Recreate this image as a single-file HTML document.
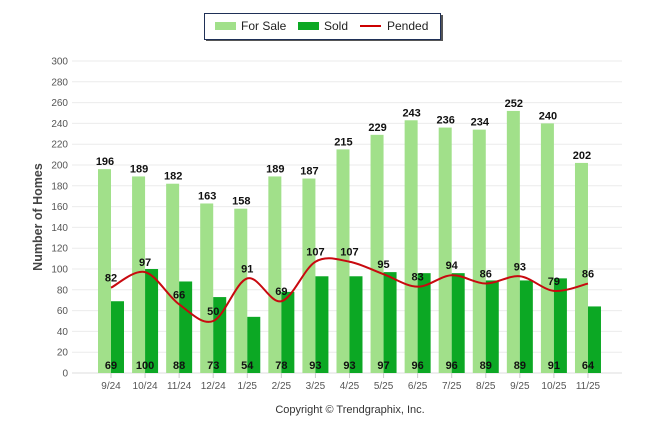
<!DOCTYPE html>
<html><head><meta charset="utf-8"><style>
body{margin:0;background:#fff;font-family:"Liberation Sans",sans-serif}
svg{display:block}
</style></head><body>
<svg id="chart" width="646" height="434">
<g>
<rect x="206" y="15" width="237" height="26" fill="#555"/>
<rect x="204.5" y="13.5" width="236" height="26" fill="#fff" stroke="#1f3057"/>
<rect x="215" y="22" width="21" height="8" fill="#a1e08a"/>
<text x="241" y="30" font-size="12" fill="#222">For Sale</text>
<rect x="298" y="22" width="21" height="8" fill="#0ca824"/>
<text x="324" y="30" font-size="12" fill="#222">Sold</text>
<rect x="360" y="25" width="21" height="2" fill="#c00"/>
<text x="387" y="30" font-size="12" fill="#222">Pended</text>
</g>
<text transform="translate(42,217) rotate(-90)" text-anchor="middle" font-size="12.5" font-weight="bold" fill="#444">Number of Homes</text>
<text x="350" y="413" text-anchor="middle" font-size="11" fill="#333">Copyright © Trendgraphix, Inc.</text>
<g id="grid"></g><g id="bars"></g><g id="line"></g><g id="labels"></g>
</svg>
<script>
const categories=["9/24","10/24","11/24","12/24","1/25","2/25","3/25","4/25","5/25","6/25","7/25","8/25","9/25","10/25","11/25"];
const forSale=[196,189,182,163,158,189,187,215,229,243,236,234,252,240,202];
const sold=[69,100,88,73,54,78,93,93,97,96,96,89,89,91,64];
const pended=[82,97,66,50,91,69,107,107,95,83,94,86,93,79,86];
const yTicks=[0,20,40,60,80,100,120,140,160,180,200,220,240,260,280,300];
const NS="http://www.w3.org/2000/svg";
const y=v=>373-v*312/300;
const x=i=>111+i*34.07;
function mk(tag,attrs,parent,txt){const e=document.createElementNS(NS,tag);for(const k in attrs)e.setAttribute(k,attrs[k]);if(txt!==undefined)e.textContent=txt;document.getElementById(parent).appendChild(e);return e;}
yTicks.forEach(t=>{
 const l=mk('line',{x1:72,x2:622,y1:y(t),y2:y(t),stroke:t===0?'#ddd':'#ebebeb','stroke-width':1},'grid');
 
 
 const tx=mk('text',{x:68,y:y(t)+3.5,'text-anchor':'end','font-size':10,fill:'#555'},'grid',t);
 
 
});
categories.forEach((c,i)=>{
 const tk=mk('line',{x1:x(i),x2:x(i),y1:373,y2:378,stroke:'#ccc'},'grid');
 
 
 const tl=mk('text',{x:x(i),y:389,'text-anchor':'middle','font-size':10,fill:'#555'},'grid',c);
 
 
 const b1=mk('rect',{x:x(i)-13,y:y(forSale[i]),width:13,height:373-y(forSale[i]),fill:'#a1e08a'},'bars');
 
 
 const b2=mk('rect',{x:x(i),y:y(sold[i]),width:13,height:373-y(sold[i]),fill:'#0ca824'},'bars');
 
 
 const l1=mk('text',{x:x(i)-6,y:y(forSale[i])-4,'text-anchor':'middle','font-size':11,'font-weight':'bold',fill:'#111'},'labels',forSale[i]);
 
 
 const l2=mk('text',{x:x(i),y:369,'text-anchor':'middle','font-size':11,'font-weight':'bold',fill:'#111'},'labels',sold[i]);
 
 
 const l3=mk('text',{x:x(i),y:y(pended[i])-6,'text-anchor':'middle','font-size':11,'font-weight':'bold',fill:'#111'},'labels',pended[i]);
 
 
});
const pts=pended.map((v,i)=>[x(i),y(v)]);
let d='M'+pts[0][0]+','+pts[0][1];
for(let i=0;i<pts.length-1;i++){
 const p0=pts[i-1]||pts[i],p1=pts[i],p2=pts[i+1],p3=pts[i+2]||p2;
 const c1=[p1[0]+(p2[0]-p0[0])/6,p1[1]+(p2[1]-p0[1])/6];
 const c2=[p2[0]-(p3[0]-p1[0])/6,p2[1]-(p3[1]-p1[1])/6];
 d+=` C${c1[0]},${c1[1]} ${c2[0]},${c2[1]} ${p2[0]},${p2[1]}`;
}
const path=mk('path',{d:d,fill:'none',stroke:'#c8090f','stroke-width':2},'line');


</script>
</body></html>
